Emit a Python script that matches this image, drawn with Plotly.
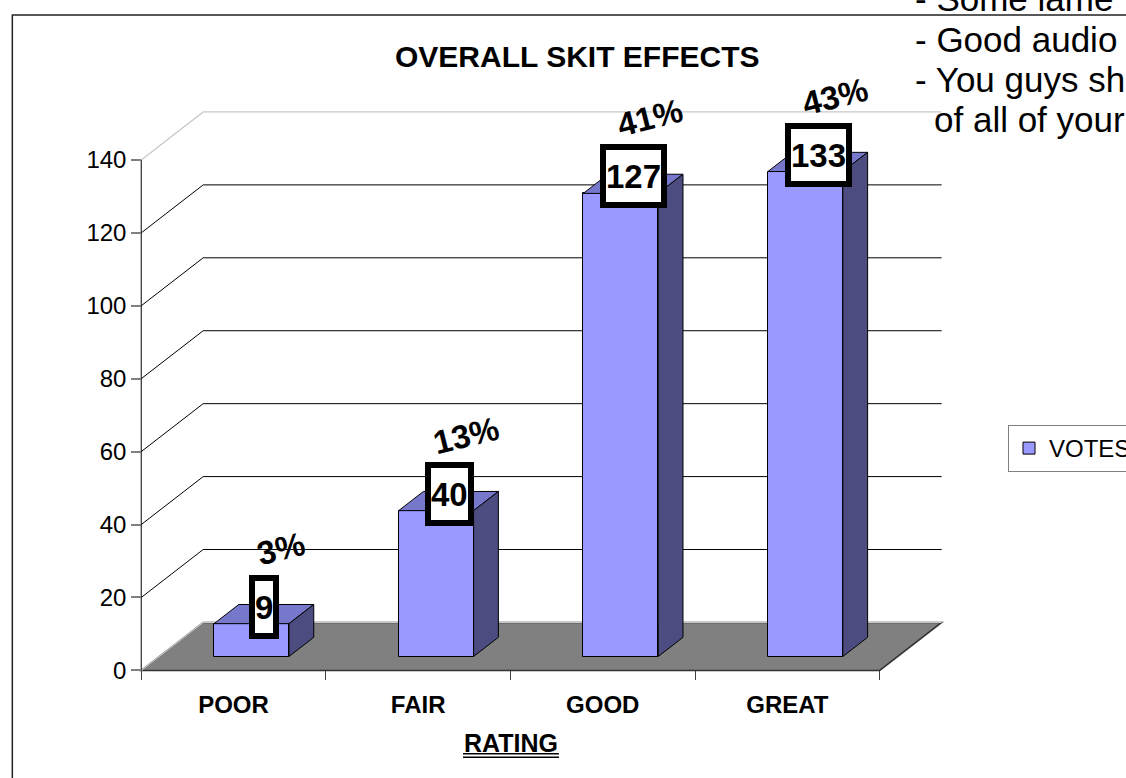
import plotly.graph_objects as go

# data
RATINGS = ["POOR", "FAIR", "GOOD", "GREAT"]
VOTES = [9, 40, 127, 133]
Y_TICKS = [0, 20, 40, 60, 80, 100, 120, 140]
NOTE_LINES = ["- Some lame", "- Good audio", "- You guys sh", "of all of your"]

# page geometry (pixels)
W, H = 1126, 778
X_RANGE = (-0.05, 4.5)
Y_RANGE = (-4.0, 160.0)
ORIGIN_PX = (141.0, 670.7)      # where x=0, y=0 lands
CAT_PX, UNIT_PX = 184.75, 3.648  # pixels per category / per vote

ML = ORIGIN_PX[0] + X_RANGE[0] * CAT_PX
MR = W - (ORIGIN_PX[0] + X_RANGE[1] * CAT_PX)
MB = H - (ORIGIN_PX[1] - Y_RANGE[0] * UNIT_PX)
MT = ORIGIN_PX[1] - Y_RANGE[1] * UNIT_PX

# fake 3D depth, in data units
DX = 62 / CAT_PX
DY = 48 / UNIT_PX
BAR_FRONT = 0.29   # fraction of floor depth where bar front sits
BAR_DEPTH = 0.40   # bar depth as fraction of floor depth
BAR_W = 75 / CAT_PX

FONT = "Liberation Sans, Arial, sans-serif"
FRONT, TOP, SIDE = "#9999FF", "#7777CC", "#4C4C80"


def paper_x(px):
    return (px - ML) / (W - ML - MR)


def paper_y(py):
    return (H - MB - py) / (H - MT - MB)


n_cat = len(RATINGS)
base = BAR_FRONT * DY
centers = [i + 0.5 + BAR_FRONT * DX for i in range(n_cat)]
ddx, ddy = BAR_DEPTH * DX, BAR_DEPTH * DY
total = sum(VOTES)

fig = go.Figure()

fig.add_trace(
    go.Bar(
        x=centers,
        y=VOTES,
        base=[base] * n_cat,
        width=BAR_W,
        marker={"color": FRONT, "line": {"color": "black", "width": 1}},
        name="VOTES",
        hoverinfo="skip",
    )
)

for cx, v in zip(centers, VOTES):
    xl, xr = cx - BAR_W / 2, cx + BAR_W / 2
    top = base + v
    fig.add_trace(
        go.Scatter(
            x=[xl, xr, xr + ddx, xl + ddx, xl],
            y=[top, top, top + ddy, top + ddy, top],
            mode="lines",
            fill="toself",
            fillcolor=TOP,
            line={"color": "black", "width": 1},
            showlegend=False,
            hoverinfo="skip",
        )
    )
    fig.add_trace(
        go.Scatter(
            x=[xr, xr, xr + ddx, xr + ddx, xr],
            y=[base, top, top + ddy, base + ddy, base],
            mode="lines",
            fill="toself",
            fillcolor=SIDE,
            line={"color": "black", "width": 1},
            showlegend=False,
            hoverinfo="skip",
        )
    )

shapes = [
    # floor
    {
        "type": "path",
        "xref": "x",
        "yref": "y",
        "path": f"M0,0 L{n_cat},0 L{n_cat + DX},{DY} L{DX},{DY} Z",
        "fillcolor": "#808080",
        "line": {"color": "#333333", "width": 1.5},
        "layer": "below",
    }
]
for v in Y_TICKS:
    edge = v in (Y_TICKS[0], Y_TICKS[-1])
    shapes.append(
        {
            "type": "path",
            "xref": "x",
            "yref": "y",
            "path": f"M0,{v} L{DX},{v + DY} L{n_cat + DX},{v + DY}",
            "line": {"color": "#C8C8C8" if edge else "black", "width": 1.2 if edge else 1},
            "layer": "below",
        }
    )
shapes.append(
    {
        "type": "line",
        "xref": "x",
        "yref": "y",
        "x0": 0,
        "y0": 0,
        "x1": 0,
        "y1": Y_TICKS[-1],
        "line": {"color": "black", "width": 1},
        "layer": "below",
    }
)
# chart frame
shapes.append(
    {
        "type": "rect",
        "xref": "paper",
        "yref": "paper",
        "x0": paper_x(12),
        "y0": paper_y(H + 20),
        "x1": paper_x(W + 20),
        "y1": paper_y(15),
        "line": {"color": "#222222", "width": 1.5},
        "layer": "below",
    }
)
# double underline of the axis title
for py in (754, 757.5):
    shapes.append(
        {
            "type": "line",
            "xref": "paper",
            "yref": "paper",
            "x0": paper_x(463),
            "x1": paper_x(559),
            "y0": paper_y(py),
            "y1": paper_y(py),
            "line": {"color": "black", "width": 1.4},
        }
    )

annotations = []
for cx, v in zip(centers, VOTES):
    annotations.append(
        {
            "x": cx + 0.07,
            "y": base + v + 4.66,
            "xref": "x",
            "yref": "y",
            "xanchor": "center",
            "yanchor": "middle",
            "text": str(v),
            "showarrow": False,
            "font": {"family": FONT, "size": 33, "color": "black", "weight": "bold"},
            "bgcolor": "white",
            "bordercolor": "black",
            "borderwidth": 6,
            "borderpad": 0,
            "height": 52,
        }
    )
    annotations.append(
        {
            "x": cx + 0.16,
            "y": base + v + 20.7,
            "xref": "x",
            "yref": "y",
            "xanchor": "center",
            "yanchor": "middle",
            "text": f"{round(v / total * 100)}%",
            "showarrow": False,
            "textangle": -14,
            "font": {"family": FONT, "size": 33, "color": "black", "weight": "bold"},
        }
    )

annotations.append(
    {
        "x": paper_x(577),
        "y": paper_y(57),
        "xref": "paper",
        "yref": "paper",
        "xanchor": "center",
        "yanchor": "middle",
        "text": "OVERALL SKIT EFFECTS",
        "showarrow": False,
        "font": {"family": FONT, "size": 30, "color": "black", "weight": "bold"},
    }
)
annotations.append(
    {
        "x": paper_x(511),
        "y": paper_y(743),
        "xref": "paper",
        "yref": "paper",
        "xanchor": "center",
        "yanchor": "middle",
        "text": "RATING",
        "showarrow": False,
        "font": {"family": FONT, "size": 25, "color": "black", "weight": "bold"},
    }
)
note_y = [-1.5, 39, 80, 120]
note_x = [913, 913, 913, 932]
for text, nx, ny in zip(NOTE_LINES, note_x, note_y):
    annotations.append(
        {
            "x": paper_x(nx),
            "y": paper_y(ny),
            "xref": "paper",
            "yref": "paper",
            "xanchor": "left",
            "yanchor": "middle",
            "text": text,
            "showarrow": False,
            "font": {"family": FONT, "size": 35, "color": "black"},
        }
    )

fig.update_layout(
    width=W,
    height=H,
    margin={"l": ML, "r": MR, "t": MT, "b": MB, "autoexpand": False},
    paper_bgcolor="white",
    plot_bgcolor="rgba(0,0,0,0)",
    shapes=shapes,
    annotations=annotations,
    showlegend=True,
    legend={
        "xref": "container",
        "yref": "container",
        "x": 1008 / W,
        "y": 1 - 425 / H,
        "xanchor": "left",
        "yanchor": "top",
        "bordercolor": "#808080",
        "borderwidth": 1,
        "bgcolor": "white",
        "font": {"family": FONT, "size": 24, "color": "black"},
    },
    bargap=0,
)
fig.update_xaxes(
    range=list(X_RANGE),
    anchor="free",
    position=(0 - Y_RANGE[0]) / (Y_RANGE[1] - Y_RANGE[0]),
    tickvals=[i + 0.5 for i in range(n_cat)],
    ticktext=RATINGS,
    ticks="",
    ticklabelstandoff=18,
    tickfont={"family": FONT, "size": 24, "color": "black", "weight": "bold"},
    minor={
        "tickvals": list(range(n_cat + 1)),
        "ticks": "outside",
        "ticklen": 9,
        "tickcolor": "#404040",
        "tickwidth": 1,
        "showgrid": False,
    },
    showgrid=False,
    zeroline=False,
    showline=False,
)
fig.update_yaxes(
    range=list(Y_RANGE),
    anchor="free",
    position=(0 - X_RANGE[0]) / (X_RANGE[1] - X_RANGE[0]),
    tickvals=Y_TICKS,
    ticks="outside",
    ticklen=10,
    tickcolor="#808080",
    tickwidth=1.5,
    tickfont={"family": FONT, "size": 24, "color": "black"},
    showgrid=False,
    zeroline=False,
    showline=False,
)

# page body has an 8px default margin; drop it so the figure sits at 0,0
fig.write_html(
    "out.html",
    config={"displayModeBar": False},
    post_script="document.body.style.margin = '0';",
)
